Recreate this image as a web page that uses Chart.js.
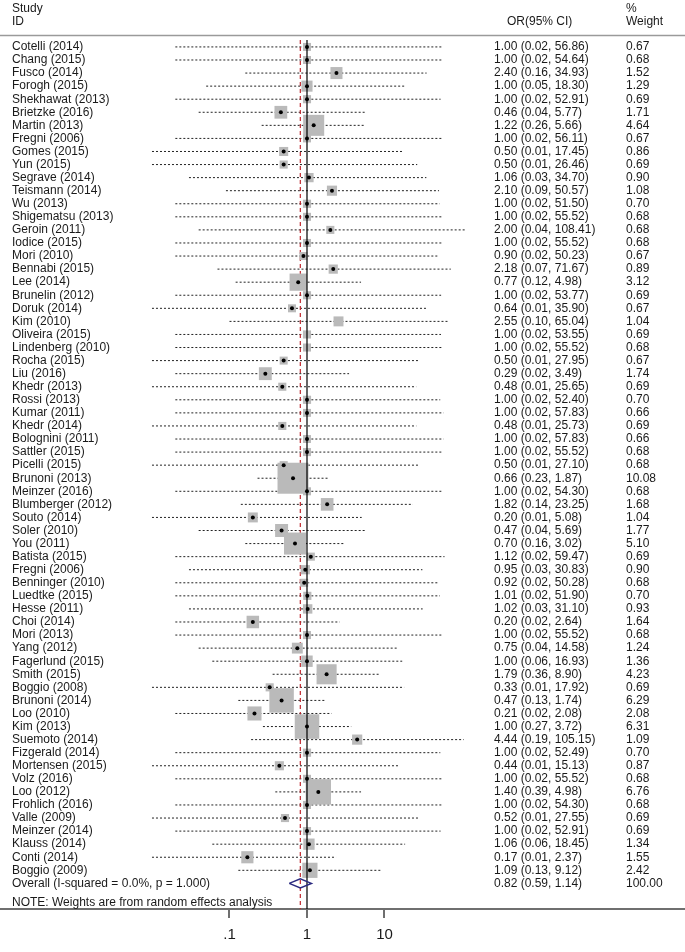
<!DOCTYPE html>
<html>
<head>
<meta charset="utf-8">
<script src="https://cdn.jsdelivr.net/npm/chart.js@4.4.1/dist/chart.umd.min.js"></script>
<style>
  html, body { margin: 0; padding: 0; background: #fff; }
  #wrap { width: 685px; height: 952px; position: relative; }
</style>
</head>
<body>
<div id="wrap"><canvas id="forest" width="685" height="952"></canvas></div>
<script>
/* ── 연구 데이터 ── */
var studies = ['Cotelli (2014)', 'Chang (2015)', 'Fusco (2014)', 'Forogh (2015)', 'Shekhawat (2013)',
  'Brietzke (2016)', 'Martin (2013)', 'Fregni (2006)', 'Gomes (2015)', 'Yun (2015)',
  'Segrave (2014)', 'Teismann (2014)', 'Wu (2013)', 'Shigematsu (2013)', 'Geroin (2011)',
  'Iodice (2015)', 'Mori (2010)', 'Bennabi (2015)', 'Lee (2014)', 'Brunelin (2012)',
  'Doruk (2014)', 'Kim (2010)', 'Oliveira (2015)', 'Lindenberg (2010)', 'Rocha (2015)',
  'Liu (2016)', 'Khedr (2013)', 'Rossi (2013)', 'Kumar (2011)', 'Khedr (2014)',
  'Bolognini (2011)', 'Sattler (2015)', 'Picelli (2015)', 'Brunoni (2013)', 'Meinzer (2016)',
  'Blumberger (2012)', 'Souto (2014)', 'Soler (2010)', 'You (2011)', 'Batista (2015)',
  'Fregni (2006)', 'Benninger (2010)', 'Luedtke (2015)', 'Hesse (2011)', 'Choi (2014)',
  'Mori (2013)', 'Yang (2012)', 'Fagerlund (2015)', 'Smith (2015)', 'Boggio (2008)',
  'Brunoni (2014)', 'Loo (2010)', 'Kim (2013)', 'Suemoto (2014)', 'Fizgerald (2014)',
  'Mortensen (2015)', 'Volz (2016)', 'Loo (2012)', 'Frohlich (2016)', 'Valle (2009)',
  'Meinzer (2014)', 'Klauss (2014)', 'Conti (2014)', 'Boggio (2009)'];
var orVal = [1.00, 1.00, 2.40, 1.00, 1.00, 0.46, 1.22, 1.00, 0.50, 0.50,
  1.06, 2.10, 1.00, 1.00, 2.00, 1.00, 0.90, 2.18, 0.77, 1.00,
  0.64, 2.55, 1.00, 1.00, 0.50, 0.29, 0.48, 1.00, 1.00, 0.48,
  1.00, 1.00, 0.50, 0.66, 1.00, 1.82, 0.20, 0.47, 0.70, 1.12,
  0.95, 0.92, 1.01, 1.02, 0.20, 1.00, 0.75, 1.00, 1.79, 0.33,
  0.47, 0.21, 1.00, 4.44, 1.00, 0.44, 1.00, 1.40, 1.00, 0.52,
  1.00, 1.06, 0.17, 1.09];
var ciLow = [0.02, 0.02, 0.16, 0.05, 0.02, 0.04, 0.26, 0.02, 0.01, 0.01,
  0.03, 0.09, 0.02, 0.02, 0.04, 0.02, 0.02, 0.07, 0.12, 0.02,
  0.01, 0.10, 0.02, 0.02, 0.01, 0.02, 0.01, 0.02, 0.02, 0.01,
  0.02, 0.02, 0.01, 0.23, 0.02, 0.14, 0.01, 0.04, 0.16, 0.02,
  0.03, 0.02, 0.02, 0.03, 0.02, 0.02, 0.04, 0.06, 0.36, 0.01,
  0.13, 0.02, 0.27, 0.19, 0.02, 0.01, 0.02, 0.39, 0.02, 0.01,
  0.02, 0.06, 0.01, 0.13];
var ciHigh = [56.86, 54.64, 34.93, 18.30, 52.91, 5.77, 5.66, 56.11, 17.45, 26.46,
  34.70, 50.57, 51.50, 55.52, 108.41, 55.52, 50.23, 71.67, 4.98, 53.77,
  35.90, 65.04, 53.55, 55.52, 27.95, 3.49, 25.65, 52.40, 57.83, 25.73,
  57.83, 55.52, 27.10, 1.87, 54.30, 23.25, 5.08, 5.69, 3.02, 59.47,
  30.83, 50.28, 51.90, 31.10, 2.64, 55.52, 14.58, 16.93, 8.90, 17.92,
  1.74, 2.08, 3.72, 105.15, 52.49, 15.13, 55.52, 4.98, 54.30, 27.55,
  52.91, 18.45, 2.37, 9.12];
var weights = [0.67, 0.68, 1.52, 1.29, 0.69, 1.71, 4.64, 0.67, 0.86, 0.69,
  0.90, 1.08, 0.70, 0.68, 0.68, 0.68, 0.67, 0.89, 3.12, 0.69,
  0.67, 1.04, 0.69, 0.68, 0.67, 1.74, 0.69, 0.70, 0.66, 0.69,
  0.66, 0.68, 0.68, 10.08, 0.68, 1.68, 1.04, 1.77, 5.10, 0.69,
  0.90, 0.68, 0.70, 0.93, 1.64, 0.68, 1.24, 1.36, 4.23, 0.69,
  6.29, 2.08, 6.31, 1.09, 0.70, 0.87, 0.68, 6.76, 0.68, 0.69,
  0.69, 1.34, 1.55, 2.42];
// 점이 보이지 않는 행 (Kim 2010, Oliveira 2015, Lindenberg 2010)
var noDot = [21, 22, 23];

var overallLabel = 'Overall (I-squared = 0.0%, p = 1.000)';
var overallOR = 0.82, overallLow = 0.59, overallHigh = 1.14, overallWeight = 100.00;
var noteText = 'NOTE: Weights are from random effects analysis';

var tickVals = [0.1, 1, 10];
var tickLabels = ['.1', '1', '10'];

/* ── 데이터셋 구성 ── */
var nRows = studies.length;          // 64
var overallRow = nRows;              // 64
var yMin = -0.53, yMax = 65.96;

var ciPoints = [];
studies.forEach(function(_, i) {
  ciPoints.push({ x: ciLow[i], y: i }, { x: ciHigh[i], y: i }, { x: 1, y: null });
});
var boxPoints = studies.map(function(_, i) { return { x: orVal[i], y: i }; });
var dotPoints = studies.map(function(_, i) { return { x: orVal[i], y: i }; });
var diamond = [
  { x: overallLow, y: overallRow }, { x: overallOR, y: overallRow - 0.35 },
  { x: overallHigh, y: overallRow }, { x: overallOR, y: overallRow + 0.35 },
  { x: overallLow, y: overallRow }
];

var FONT = "'Liberation Sans', Arial, Helvetica, sans-serif";

/* ── 텍스트 열 그리기 플러그인 ── */
var textPlugin = {
  id: 'forestText',
  afterDraw: function(chart) {
    var ctx = chart.ctx, ys = chart.scales.y;
    ctx.save();
    ctx.fillStyle = '#1a1a1a';
    ctx.font = '12px ' + FONT;
    ctx.textBaseline = 'middle';
    ctx.textAlign = 'left';
    // 헤더
    ctx.fillText('Study', 12, 9);
    ctx.fillText('ID', 12, 22);
    ctx.fillText('OR(95% CI)', 507, 22);
    ctx.fillText('%', 626, 9);
    ctx.fillText('Weight', 626, 22);
    // 헤더 구분선
    ctx.strokeStyle = '#9a9a9a';
    ctx.lineWidth = 1.5;
    ctx.beginPath(); ctx.moveTo(0, 35.5); ctx.lineTo(685, 35.5); ctx.stroke();
    // 각 행
    studies.forEach(function(name, i) {
      var y = ys.getPixelForValue(i);
      ctx.fillText(name, 12, y);
      ctx.fillText(orVal[i].toFixed(2) + ' (' + ciLow[i].toFixed(2) + ', ' + ciHigh[i].toFixed(2) + ')', 494, y);
      ctx.fillText(weights[i].toFixed(2), 626, y);
    });
    var yo = ys.getPixelForValue(overallRow);
    ctx.fillText(overallLabel, 12, yo);
    ctx.fillText(overallOR.toFixed(2) + ' (' + overallLow.toFixed(2) + ', ' + overallHigh.toFixed(2) + ')', 494, yo);
    ctx.fillText(overallWeight.toFixed(2), 626, yo);
    ctx.fillText(noteText, 12, ys.getPixelForValue(overallRow + 1.5));
    ctx.restore();
  }
};

/* ── 차트 ── */
new Chart(document.getElementById('forest').getContext('2d'), {
  type: 'scatter',
  data: {
    datasets: [{
      // 신뢰구간 (점선)
      data: ciPoints, showLine: true, spanGaps: false,
      borderColor: '#222', borderWidth: 1, borderDash: [2, 2],
      pointRadius: 0, order: 6
    }, {
      // 통합 OR (빨간 점선)
      data: [{ x: overallOR, y: yMin }, { x: overallOR, y: yMax }], showLine: true,
      borderColor: '#c0272d', borderWidth: 1.2, borderDash: [4, 3],
      pointRadius: 0, order: 5
    }, {
      // 가중치 상자
      data: boxPoints, pointStyle: 'rect',
      pointRadius: function(c) { return 6.9 * Math.sqrt(weights[c.dataIndex]); },
      backgroundColor: '#bababa', borderWidth: 0, order: 4
    }, {
      // 기준선 OR = 1
      data: [{ x: 1, y: yMin }, { x: 1, y: yMax }], showLine: true,
      borderColor: '#000', borderWidth: 1.2, pointRadius: 0, order: 3
    }, {
      // 점 추정치
      data: dotPoints, pointStyle: 'circle',
      pointRadius: function(c) { return noDot.indexOf(c.dataIndex) >= 0 ? 0 : 2; },
      backgroundColor: '#000', borderWidth: 0, order: 2
    }, {
      // 전체 다이아몬드
      data: diamond, showLine: true, tension: 0,
      borderColor: '#2b2a80', borderWidth: 1.5, pointRadius: 0, order: 1
    }]
  },
  options: {
    responsive: false,
    animation: false,
    events: [],
    layout: { autoPadding: false, padding: { top: 40, left: 0, right: 0, bottom: 0 } },
    plugins: { legend: { display: false }, tooltip: { enabled: false } },
    scales: {
      x: {
        type: 'logarithmic',
        min: 1.0932e-4, max: 75420,
        afterBuildTicks: function(scale) {
          scale.ticks = tickVals.map(function(v) { return { value: v }; });
        },
        ticks: {
          autoSkip: false, maxRotation: 0, padding: 8,
          color: '#1a1a1a', font: { family: FONT, size: 15 },
          callback: function(v) {
            var k = tickVals.indexOf(v);
            return k >= 0 ? tickLabels[k] : '';
          }
        },
        grid: { drawOnChartArea: false, drawTicks: true, tickLength: 9, color: '#6f6f6f', lineWidth: 2 },
        border: { display: true, color: '#6f6f6f', width: 2 }
      },
      y: {
        type: 'linear', reverse: true, min: yMin, max: yMax, display: false
      }
    }
  },
  plugins: [textPlugin]
});
</script>
</body>
</html>
